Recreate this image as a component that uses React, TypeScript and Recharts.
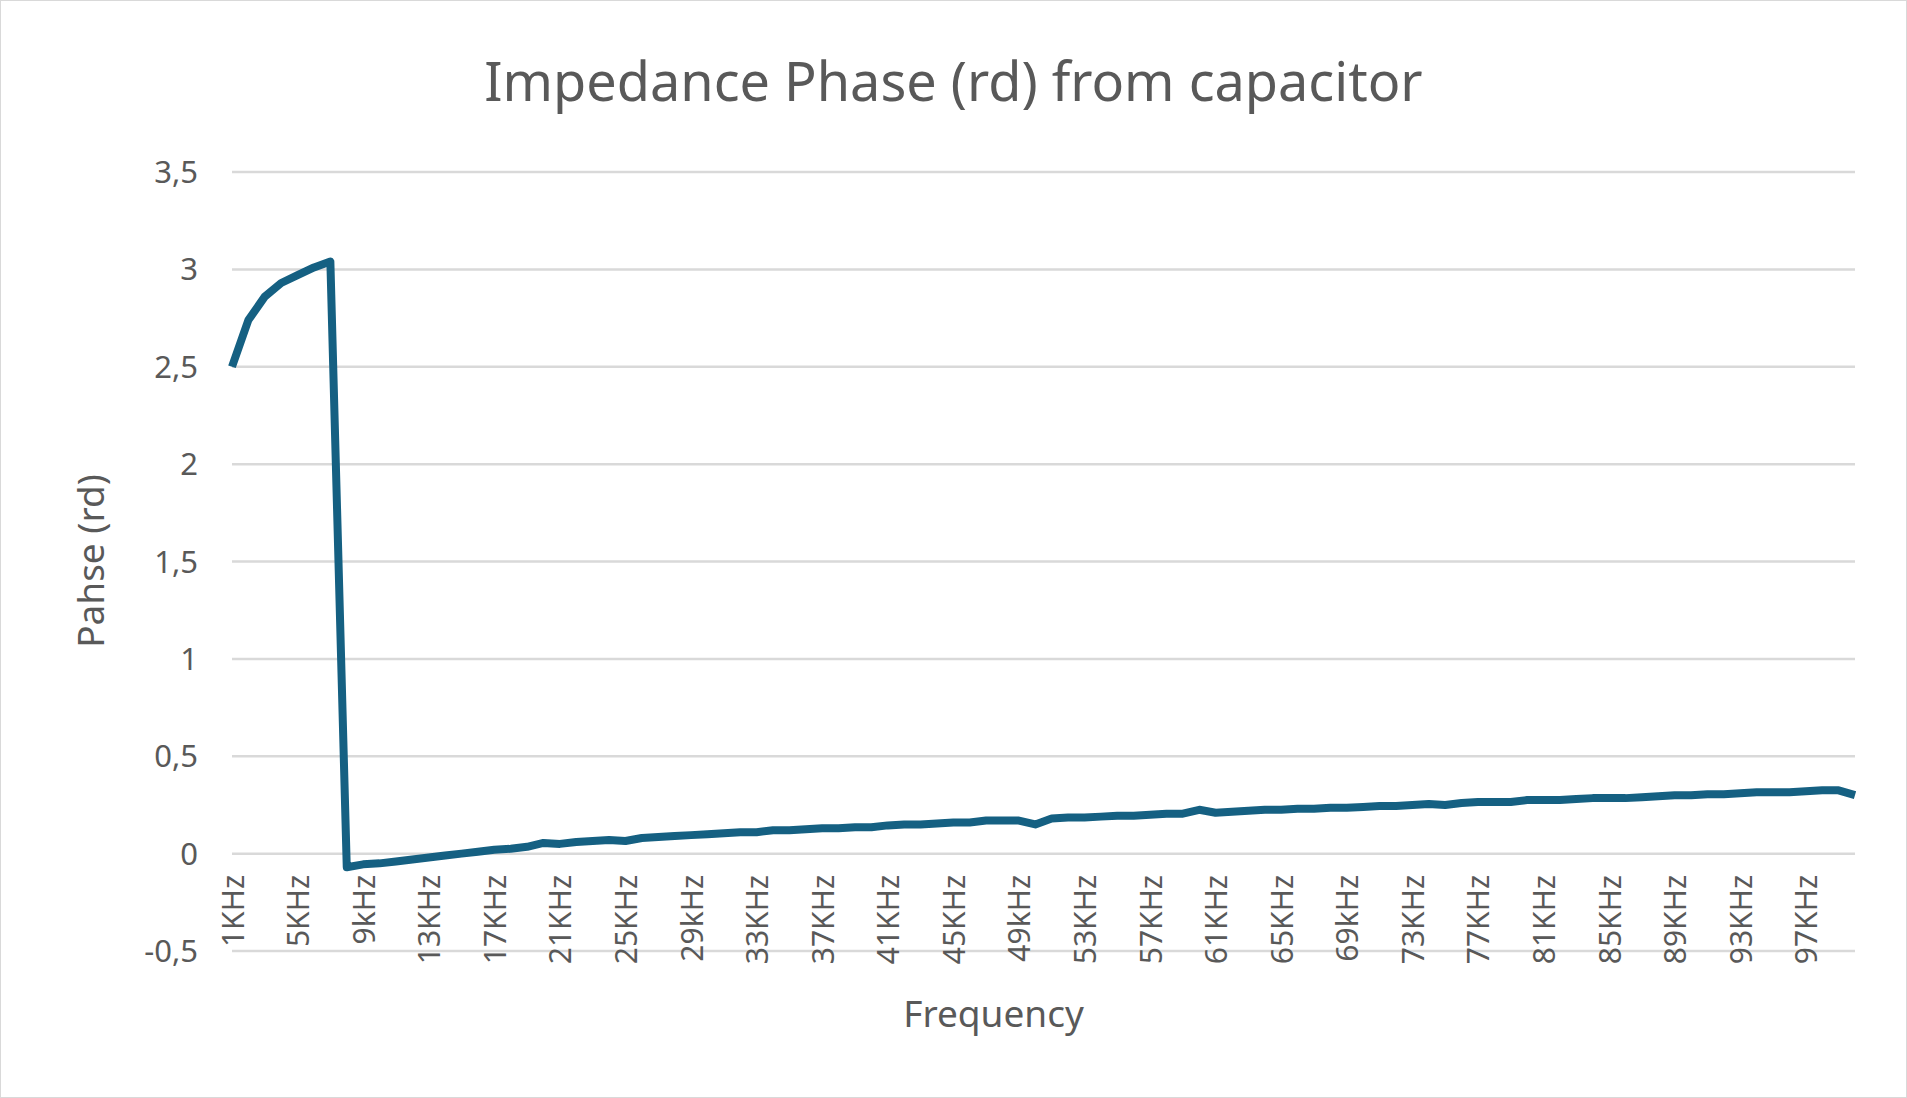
import React from "react";
import { LineChart, Line, XAxis, YAxis, CartesianGrid } from "recharts";

const freqs: string[] = Array.from({ length: 100 }, (_, i) => {
  const n = i + 1;
  const lower = [9, 29, 49, 69].includes(n);
  return `${n}${lower ? "kHz" : "KHz"}`;
});
const phase: number[] = [
  2.5, 2.74, 2.86, 2.93, 2.97, 3.01, 3.04, -0.07, -0.055, -0.05,
  -0.04, -0.03, -0.02, -0.01, 0.0, 0.01, 0.02, 0.025, 0.035, 0.055,
  0.05, 0.06, 0.065, 0.07, 0.065, 0.08, 0.085, 0.09, 0.095, 0.1,
  0.105, 0.11, 0.11, 0.12, 0.12, 0.125, 0.13, 0.13, 0.135, 0.135,
  0.145, 0.15, 0.15, 0.155, 0.16, 0.16, 0.17, 0.17, 0.17, 0.15,
  0.18, 0.185, 0.185, 0.19, 0.195, 0.195, 0.2, 0.205, 0.205, 0.225,
  0.21, 0.215, 0.22, 0.225, 0.225, 0.23, 0.23, 0.235, 0.235, 0.24,
  0.245, 0.245, 0.25, 0.255, 0.25, 0.26, 0.265, 0.265, 0.265, 0.275,
  0.275, 0.275, 0.28, 0.285, 0.285, 0.285, 0.29, 0.295, 0.3, 0.3,
  0.305, 0.305, 0.31, 0.315, 0.315, 0.315, 0.32, 0.325, 0.325, 0.3,
];
const yTicks = [-0.5, 0, 0.5, 1, 1.5, 2, 2.5, 3, 3.5];
const data = freqs.map((f, i) => ({ f, v: phase[i] }));

const FONT = "'Noto Sans', 'Open Sans', sans-serif";
const GREY = "#595959";

const XTick = (props: any) => {
  const { x, payload } = props;
  const y = 874;
  return (
    <text x={x} y={y} textAnchor="end" dominantBaseline="central" transform={`rotate(-90, ${x}, ${y})`}
      fill={GREY} fontSize={30} fontFamily={FONT}>{payload.value}</text>
  );
};

export default function App() {
  return (
    <div style={{ position: "absolute", left: 0, top: 0, width: 1905, height: 1096, border: "1px solid #d9d9d9", background: "#fff", fontFamily: FONT }}>
      <div style={{ position: "absolute", left: 0, right: 0, top: 42, textAlign: "center", fontSize: 54, color: GREY }}>
        Impedance Phase (rd) from capacitor
      </div>
      <div style={{ position: "absolute", left: 0, right: 0, top: 986, paddingLeft: 80, textAlign: "center", fontSize: 37, color: GREY }}>
        Frequency
      </div>
      <div style={{ position: "absolute", left: 88, top: 560, transform: "translate(-50%, -50%) rotate(-90deg)", whiteSpace: "nowrap", fontSize: 37, color: GREY }}>
        Pahse (rd)
      </div>
      <div style={{ position: "absolute", left: 0, top: 0 }}>
        <LineChart width={1905} height={1096} data={data} margin={{ top: 171, right: 51, left: 131, bottom: 0 }}>
          <CartesianGrid vertical={false} stroke="#d9d9d9" strokeWidth={2.5} />
          <XAxis dataKey="f" interval={3} tick={<XTick />} tickLine={false} axisLine={false} height={146} />
          <YAxis domain={[-0.5, 3.5]} ticks={yTicks} width={100} tickLine={false} axisLine={false}
            tickFormatter={(v: number) => String(v).replace(".", ",")}
            tick={{ fill: GREY, fontSize: 31, fontFamily: FONT }} tickMargin={28} />
          <Line type="linear" dataKey="v" stroke="#156082" strokeWidth={8} dot={false} isAnimationActive={false} strokeLinejoin="round" />
        </LineChart>
      </div>
    </div>
  );
}
